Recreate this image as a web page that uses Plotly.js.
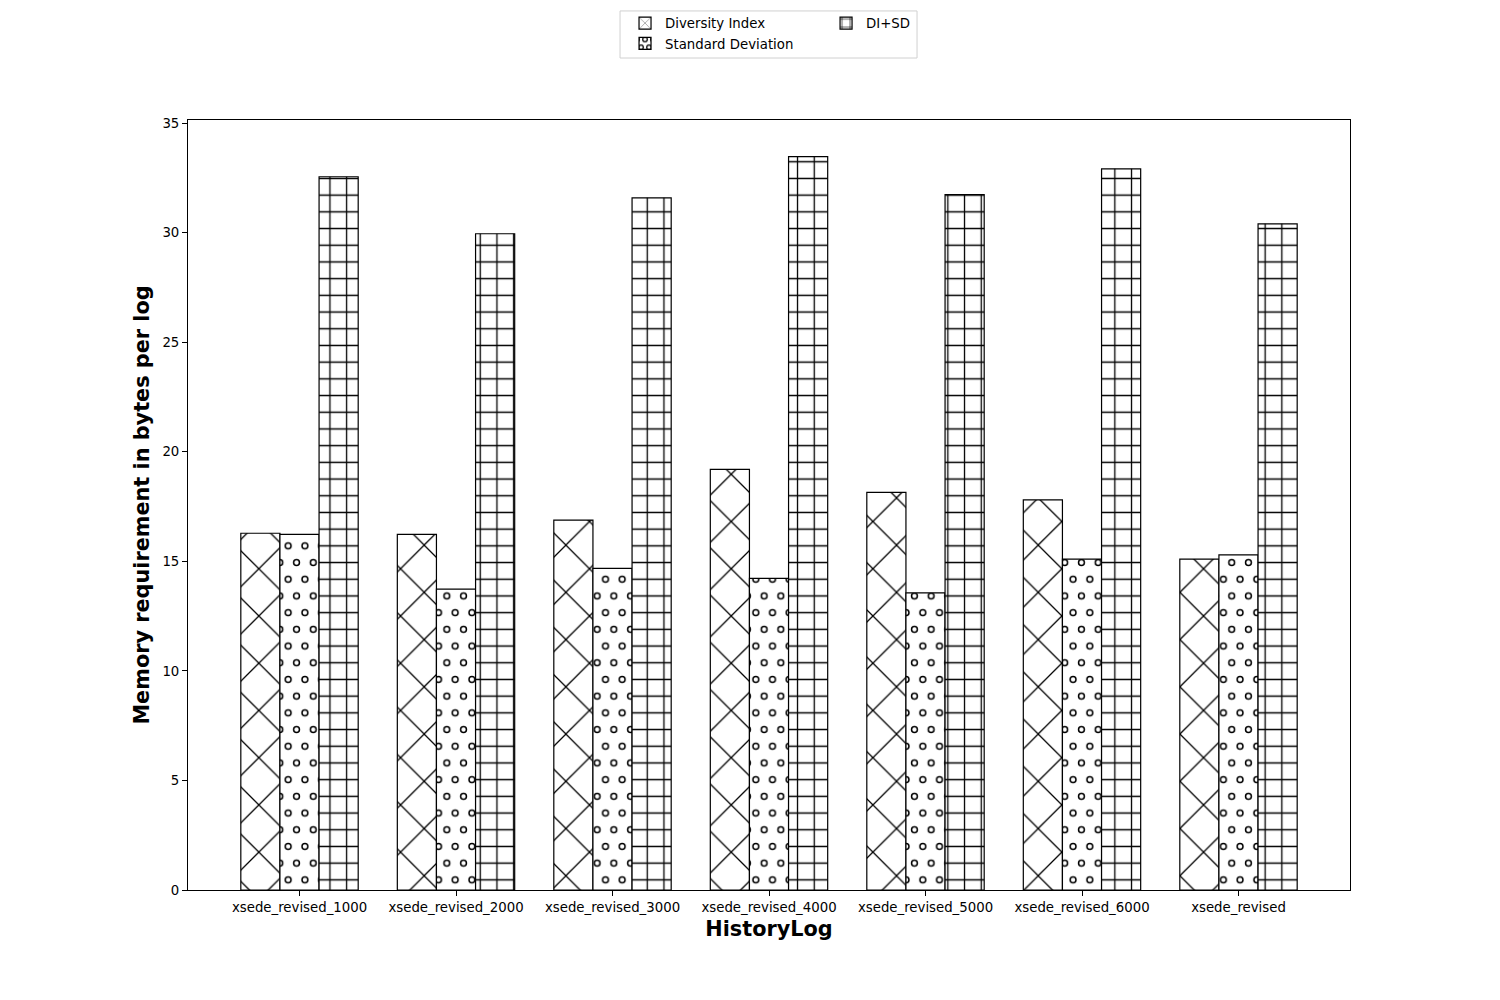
<!DOCTYPE html>
<html>
<head>
<meta charset="utf-8">
<script src="https://cdn.plot.ly/plotly-3.0.1.min.js"></script>
<style>html,body{margin:0;padding:0;background:#fff;}#chart{width:1500px;height:1000px;}</style>
</head>
<body>
<div id="chart"></div>
<script>
const categories = ['xsede_revised_1000','xsede_revised_2000','xsede_revised_3000','xsede_revised_4000','xsede_revised_5000','xsede_revised_6000','xsede_revised'];
const diversityIndex = [16.28, 16.23, 16.88, 19.20, 18.15, 17.80, 15.10];
const standardDeviation = [16.23, 13.73, 14.68, 14.22, 13.56, 15.10, 15.29];
const diPlusSd = [32.55, 29.95, 31.59, 33.47, 31.74, 32.91, 30.40];
const yTicks = [0, 5, 10, 15, 20, 25, 30, 35];

const font = 'DejaVu Sans, sans-serif';
const lineStyle = {color: '#000', width: 1.2};

const traces = [
  {type: 'bar', name: 'Diversity Index', x: categories, y: diversityIndex, legend: 'legend',
   marker: {color: '#fff', line: lineStyle, pattern: {shape: 'x', size: 33.4, solidity: 0.075, fgcolor: '#000', bgcolor: '#fff'}}},
  {type: 'bar', name: 'Standard Deviation', x: categories, y: standardDeviation, legend: 'legend',
   marker: {color: '#fff', line: lineStyle, pattern: {shape: '.', size: 16.7, solidity: 0.08, fgcolor: '#000', bgcolor: '#fff'}}},
  {type: 'bar', name: 'DI+SD', x: categories, y: diPlusSd, legend: 'legend2',
   marker: {color: '#fff', line: lineStyle, pattern: {shape: '+', size: 16.7, solidity: 0.15, fgcolor: '#000', bgcolor: '#fff'}}}
];

const layout = {
  width: 1500, height: 1000,
  paper_bgcolor: '#fff', plot_bgcolor: '#fff',
  margin: {l: 188, r: 150, t: 120, b: 110, autoexpand: false},
  barmode: 'group', bargap: 0.25, bargroupgap: 0,
  font: {family: font, size: 13.3, color: '#000'},
  xaxis: {
    type: 'category', range: [-0.7125, 6.7125],
    showline: true, mirror: true, linecolor: '#000', linewidth: 1,
    ticks: 'outside', ticklen: 5, tickcolor: '#000', tickwidth: 1,
    showgrid: false, zeroline: false,
    tickfont: {family: font, size: 13.3, color: '#000'},
    title: {text: 'HistoryLog', font: {family: font, size: 20.8, color: '#000', weight: 'bold'}, standoff: 7}
  },
  yaxis: {
    range: [0, 35.14], tickvals: yTicks, ticktext: yTicks.map(String),
    showline: true, mirror: true, linecolor: '#000', linewidth: 1,
    ticks: 'outside', ticklen: 5, tickcolor: '#000', tickwidth: 1,
    showgrid: false, zeroline: false,
    tickfont: {family: font, size: 13.3, color: '#000'},
    title: {text: 'Memory requirement in bytes per log', font: {family: font, size: 20.8, color: '#000', weight: 'bold'}, standoff: 7}
  },
  legend: {
    x: 0.3761, y: 1.1455, xanchor: 'left', yanchor: 'top', orientation: 'v',
    bgcolor: 'rgba(0,0,0,0)', borderwidth: 0,
    font: {family: font, size: 13.3, color: '#000'}, tracegroupgap: 0
  },
  legend2: {
    x: 0.5491, y: 1.1455, xanchor: 'left', yanchor: 'top', orientation: 'v',
    bgcolor: 'rgba(0,0,0,0)', borderwidth: 0,
    font: {family: font, size: 13.3, color: '#000'}
  },
  shapes: [{
    type: 'rect', xref: 'paper', yref: 'paper',
    x0: 0.3718, x1: 0.6274, y0: 1.0805, y1: 1.1416,
    line: {color: '#d0d0d0', width: 1}, fillcolor: 'rgba(255,255,255,0.8)', layer: 'below'
  }],
  showlegend: true
};

Plotly.newPlot('chart', traces, layout, {staticPlot: true}).then(function (gd) {
  // Restyle the dot pattern into hollow rings on a staggered grid (matplotlib 'o' hatch look)
  const ns = 'http://www.w3.org/2000/svg';
  gd.querySelectorAll('pattern').forEach(function (p) {
    const c = p.querySelector('circle');
    if (!c) return;
    const w = parseFloat(p.getAttribute('width'));
    p.setAttribute('height', 2 * w);
    const bg = p.querySelector('rect');
    if (bg) bg.setAttribute('height', 2 * w);
    const pts = [[w / 2, w / 2], [0, 1.5 * w], [w, 1.5 * w]];
    p.querySelectorAll('circle').forEach(function (o) { o.remove(); });
    pts.forEach(function (pt) {
      const e = document.createElementNS(ns, 'circle');
      e.setAttribute('cx', pt[0]);
      e.setAttribute('cy', pt[1]);
      e.setAttribute('r', 2.9);
      e.setAttribute('fill', 'none');
      e.setAttribute('stroke', '#000');
      e.setAttribute('stroke-width', 1.5);
      p.appendChild(e);
    });
  });
});
</script>
</body>
</html>
